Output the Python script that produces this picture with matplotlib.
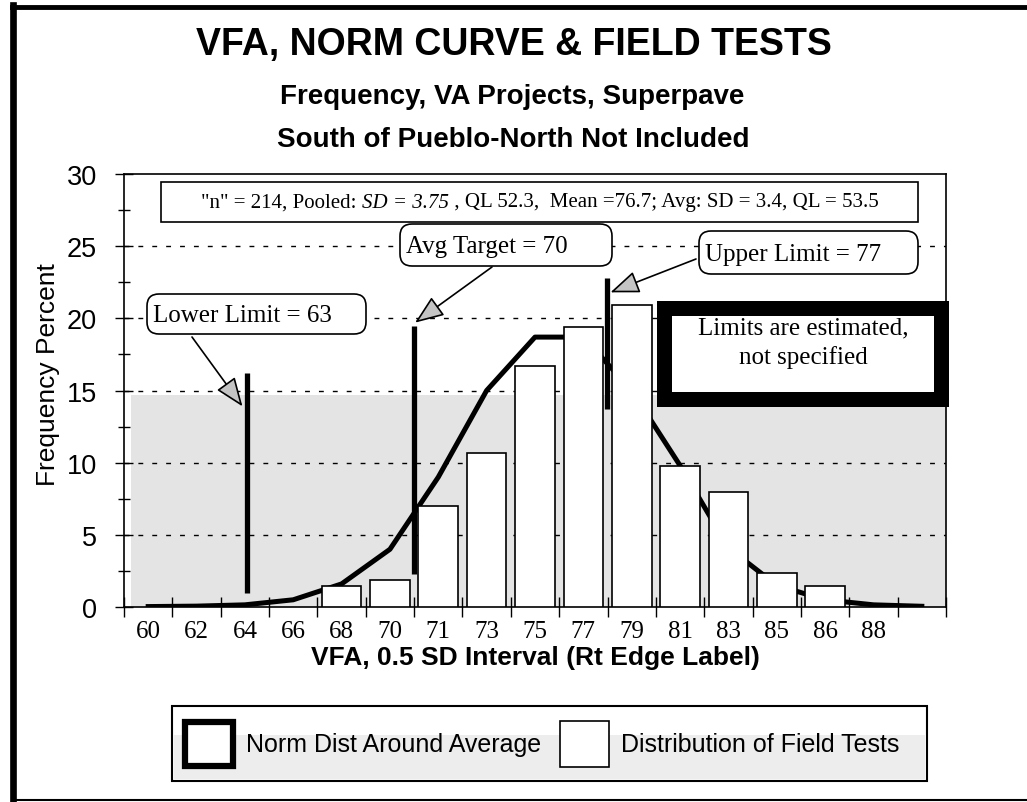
import numpy as np
import matplotlib.pyplot as plt
from matplotlib.patches import FancyBboxPatch, Rectangle
from matplotlib.offsetbox import TextArea, HPacker, AnnotationBbox

W, H = 1027, 803

# 0.5 SD intervals, labelled by their right edge (last one has no label)
interval_labels = ["60", "62", "64", "66", "68", "70", "71", "73", "75",
                   "77", "79", "81", "83", "85", "86", "88", ""]
field_pct = [0, 0, 0, 0, 1.45, 1.85, 7.0, 10.7, 16.7, 19.4, 20.9,
             9.8, 7.95, 2.35, 1.45, 0, 0]
norm_pct = [0.03, 0.06, 0.15, 0.5, 1.6, 4.0, 9.0, 15.0, 18.7, 18.7,
            15.0, 9.8, 4.1, 1.5, 0.5, 0.15, 0.05]

# limit lines on the interval axis
limit_names = ["Lower Limit = 63", "Avg Target = 70", "Upper Limit = 77"]
limit_pos = [2.05, 5.5, 9.48]
limit_lo = [1.0, 2.3, 13.7]
limit_hi = [16.2, 19.5, 22.8]
arrow_tip_x = [1.95, 5.52, 9.56]
arrow_tip_y = [13.9, 19.7, 21.8]

shade_top = 14.7

stats_txt = ['"n" = 214, Pooled: ', 'SD = 3.75', ' , QL 52.3,  Mean =76.7; Avg: SD = 3.4, QL = 53.5']

SANS = "Liberation Sans"
SERIF = "Liberation Serif"

fig = plt.figure(figsize=(W / 100, H / 100), dpi=100)
ax = fig.add_axes([124 / W, 1 - 608 / H, 822 / W, 433 / H])

x = np.arange(len(interval_labels))
field = np.array(field_pct)

ax.axhspan(0, shade_top, xmin=0.008, xmax=1, color="#e4e4e4", lw=0, zorder=0)
for gy in range(5, 30, 5):
    ax.axhline(gy, color="k", lw=1, ls=(0, (3.5, 6.5)), zorder=1)
ax.plot(x, norm_pct, color="k", lw=3.6, zorder=2)
ax.bar(x[field > 0], field[field > 0], width=0.82, color="white",
       edgecolor="k", lw=1.2, zorder=3)
ax.vlines(limit_pos, limit_lo, limit_hi, color="k", lw=3.8, zorder=4)

ax.set_xlim(-0.5, len(x) - 0.5)
ax.set_ylim(0, 30)
ax.set_xticks(x)
ax.set_xticklabels(interval_labels, fontfamily=SERIF, fontsize=18)
ax.set_xticks(np.arange(-0.5, len(x)), minor=True)
ax.tick_params(axis="x", which="major", length=0, pad=9)
ax.tick_params(axis="x", which="minor", direction="inout", length=14, width=1)
ax.set_yticks(range(0, 31, 5))
ax.set_yticks(np.arange(2.5, 30, 5), minor=True)
ax.tick_params(axis="y", which="major", direction="inout", length=13,
               width=1, pad=13, labelsize=19.5)
ax.tick_params(axis="y", which="minor", direction="inout", length=8, width=1)
for lab in ax.get_yticklabels():
    lab.set_fontfamily(SANS)
for s in ax.spines.values():
    s.set_linewidth(1.2)

ax.set_ylabel("Frequency Percent", fontfamily=SANS, fontsize=19)
ax.yaxis.label.set_va("center")
ax.yaxis.set_label_coords(-0.092, 0.54)
ax.set_xlabel("VFA, 0.5 SD Interval (Rt Edge Label)", fontfamily=SANS,
              fontsize=19, fontweight="bold")
ax.xaxis.label.set_va("center")
ax.xaxis.set_label_coords(0.5, -0.116)

# overlay in pixel units for titles, boxes and legend
ov = fig.add_axes([0, 0, 1, 1], zorder=5)
ov.set_xlim(0, W)
ov.set_ylim(H, 0)
ov.axis("off")
ov.patch.set_alpha(0)

# page frame
ov.plot([12, W], [7.5, 7.5], color="k", lw=3.5)
ov.plot([12.7, 12.7], [6, 801], color="k", lw=4.8)
ov.plot([12, W], [801, 801], color="k", lw=1.5)

ov.text(514, 45, "VFA, NORM CURVE & FIELD TESTS", ha="center", va="center",
        fontfamily=SANS, fontsize=27, fontweight="bold")
ov.text(512, 97, "Frequency, VA Projects, Superpave", ha="center", va="center",
        fontfamily=SANS, fontsize=20, fontweight="bold")
ov.text(513, 140, "South of Pueblo-North Not Included", ha="center", va="center",
        fontfamily=SANS, fontsize=20, fontweight="bold")

# stats box
ov.add_patch(Rectangle((161, 183), 757, 40, fc="white", ec="k", lw=1.2))
parts = [TextArea(stats_txt[0], textprops=dict(fontfamily=SERIF, fontsize=15)),
         TextArea(stats_txt[1], textprops=dict(fontfamily=SERIF, fontsize=15, fontstyle="italic")),
         TextArea(stats_txt[2], textprops=dict(fontfamily=SERIF, fontsize=15))]
pack = HPacker(children=parts, sep=0, pad=0, align="baseline")
ov.add_artist(AnnotationBbox(pack, (540, 203), xycoords="data", frameon=False,
                             box_alignment=(0.5, 0.5)))

# callout boxes
boxes = [(147, 295, 219, 40), (400, 225, 212, 42), (699, 232, 219, 43)]
tails = [(192, 338), (492, 268), (696, 260)]
for name, (bx, by, bw, bh), tail, tx, ty in zip(limit_names, boxes, tails,
                                                 arrow_tip_x, arrow_tip_y):
    ov.add_patch(FancyBboxPatch((bx, by), bw, bh,
                                boxstyle="round,pad=0,rounding_size=12",
                                fc="white", ec="k", lw=1.2))
    ov.text(bx + 6, by + bh / 2 + 1, name, ha="left", va="center",
            fontfamily=SERIF, fontsize=18)
    ax.annotate("", xy=(tx, ty), xycoords="data", xytext=tail,
                textcoords=ov.transData, annotation_clip=False,
                arrowprops=dict(arrowstyle="-|>,head_length=0.9,head_width=0.35",
                                mutation_scale=20, fc="#c4c4c4", ec="k",
                                lw=1.2, shrinkA=0, shrinkB=0), zorder=6)

# limits note
ov.add_patch(Rectangle((657, 302), 292, 106, fc="k", ec="none"))
ov.add_patch(Rectangle((672, 317), 262, 76, fc="white", ec="none"))
ov.text(803, 343, "Limits are estimated,\nnot specified", ha="center",
        va="center", fontfamily=SERIF, fontsize=18, linespacing=1.35)

# legend
ov.add_patch(Rectangle((172, 707), 755, 75, fc="white", ec="k", lw=1.5))
ov.add_patch(Rectangle((174, 736), 751, 44, fc="#ededed", ec="none"))
ov.add_patch(Rectangle((185, 723), 48, 44, fc="white", ec="k", lw=4.5))
ov.text(246, 745, "Norm Dist Around Average", ha="left", va="center",
        fontfamily=SANS, fontsize=18)
ov.add_patch(Rectangle((560, 722), 49, 46, fc="white", ec="k", lw=1.2))
ov.text(621, 745, "Distribution of Field Tests", ha="left", va="center",
        fontfamily=SANS, fontsize=18)

fig.savefig("out.png", dpi=100)
